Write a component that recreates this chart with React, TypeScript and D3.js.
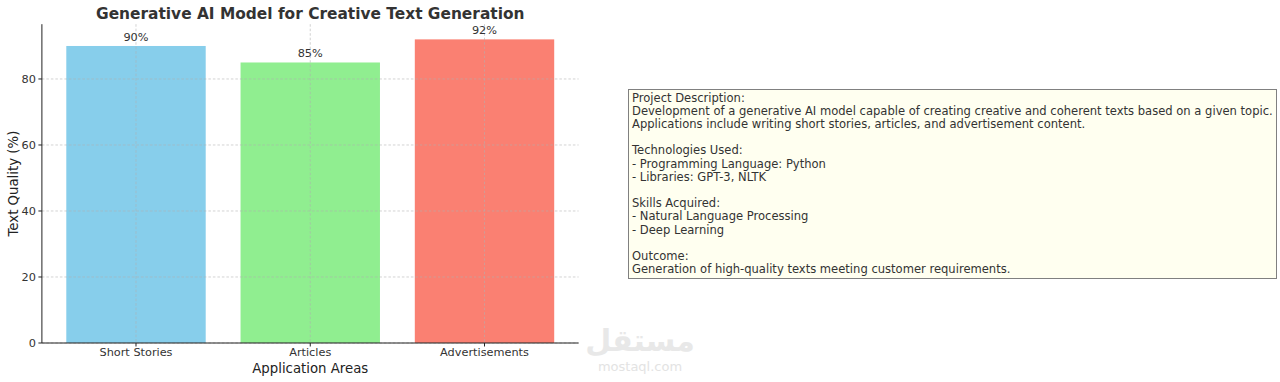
import React from "react";
import * as d3 from "d3";

const categories = ["Short Stories", "Articles", "Advertisements"];
const values = [90, 85, 92];
const colors = ["#87CEEB", "#90EE90", "#FA8072"];
const yTicks = [0, 20, 40, 60, 80];
const infoLines = [
  "Project Description:",
  "Development of a generative AI model capable of creating creative and coherent texts based on a given topic.",
  "Applications include writing short stories, articles, and advertisement content.",
  "",
  "Technologies Used:",
  "- Programming Language: Python",
  "- Libraries: GPT-3, NLTK",
  "",
  "Skills Acquired:",
  "- Natural Language Processing",
  "- Deep Learning",
  "",
  "Outcome:",
  "Generation of high-quality texts meeting customer requirements.",
];

const FONT = "DejaVu Sans, sans-serif";
const TXT = "#333333";

export default function App() {
  const left = 41.9, right = 578.6, top = 24.2, bottom = 343;
  const x = d3.scaleLinear().domain([-0.54, 2.54]).range([left, right]);
  const y = d3.scaleLinear().domain([0, 96.6]).range([bottom, top]);
  const bw = x(0.4) - x(0);

  return (
    <svg width={1280} height={382} style={{ position: "absolute", left: 0, top: 0, background: "#fff" }}>
      <rect x={0} y={0} width={1280} height={382} fill="#fff" />
      {values.map((v, i) => (
        <rect key={i} x={x(i) - bw} y={y(v)} width={bw * 2} height={y(0) - y(v)} fill={colors[i]} />
      ))}
      {yTicks.map((t) => (
        <line key={"g" + t} x1={left} x2={right} y1={y(t)} y2={y(t)} stroke="#b0b0b0" strokeWidth={0.7} strokeDasharray="2.5,2" opacity={0.8} />
      ))}
      {categories.map((c, i) => (
        <line key={"vg" + i} x1={x(i)} x2={x(i)} y1={top} y2={bottom} stroke="#b0b0b0" strokeWidth={0.7} strokeDasharray="2.5,2" opacity={0.8} />
      ))}
      <line x1={left} x2={left} y1={top} y2={bottom} stroke="#222" strokeWidth={1} />
      <line x1={left} x2={right} y1={bottom} y2={bottom} stroke="#222" strokeWidth={1} />
      {yTicks.map((t) => (
        <g key={"t" + t}>
          <line x1={left - 3.5} x2={left} y1={y(t)} y2={y(t)} stroke="#222" />
          <text x={left - 6} y={y(t)} dy="0.35em" textAnchor="end" fontFamily={FONT} fontSize={11.3} fill={TXT}>{t}</text>
        </g>
      ))}
      {categories.map((c, i) => (
        <g key={"c" + i}>
          <line x1={x(i)} x2={x(i)} y1={bottom} y2={bottom + 3.5} stroke="#222" />
          <text x={x(i)} y={bottom + 13} textAnchor="middle" fontFamily={FONT} fontSize={11.3} fill={TXT}>{c}</text>
        </g>
      ))}
      {values.map((v, i) => (
        <text key={"l" + i} x={x(i)} y={y(v) - 5} textAnchor="middle" fontFamily={FONT} fontSize={11.3} fill={TXT}>{v}%</text>
      ))}
      <text x={(left + right) / 2} y={19} textAnchor="middle" fontFamily={FONT} fontSize={15.4} fontWeight="bold" fill={TXT}>Generative AI Model for Creative Text Generation</text>
      <text x={(left + right) / 2} y={373} textAnchor="middle" fontFamily={FONT} fontSize={13.3} fill="#222">Application Areas</text>
      <text transform={`translate(18,${(top + bottom) / 2}) rotate(-90)`} textAnchor="middle" fontFamily={FONT} fontSize={13.3} fill="#222">Text Quality (%)</text>
      <rect x={628.5} y={89.5} width={648} height={189} fill="#FFFFF0" stroke="#808080" strokeWidth={1} />
      {infoLines.map((l, i) => (
        <text key={"i" + i} x={632} y={101.5 + i * 13.2} fontFamily={FONT} fontSize={11.55} fill={TXT}>{l}</text>
      ))}
      <text x={640} y={351} textAnchor="middle" fontFamily={FONT} fontSize={30} fontWeight="bold" fill="#e8e8e8">مستقل</text>
      <text x={640} y={371} textAnchor="middle" fontFamily={FONT} fontSize={13} fill="#e3e3e3">mostaql.com</text>
    </svg>
  );
}
